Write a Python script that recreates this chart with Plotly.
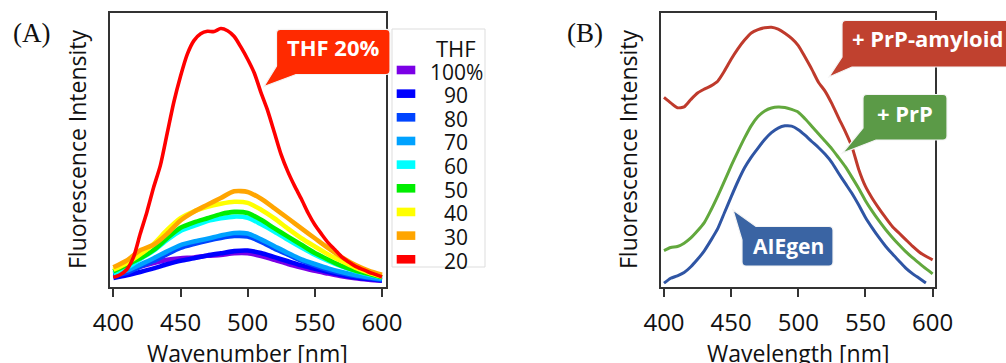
import plotly.graph_objects as go

# ---------------- data ----------------
# Panel A: emission spectra at different THF fractions (arbitrary intensity units)
wl_a = [400, 410, 420, 430, 440, 450, 460, 470, 480, 490, 500,
        510, 520, 530, 540, 550, 560, 570, 580, 590, 600]
thf_100 = [4.6, 6.0, 7.5, 8.9, 10.0, 10.6, 10.9, 11.5, 11.8, 12.4, 12.4,
           11.4, 10.0, 8.5, 7.2, 6.0, 5.0, 4.0, 3.3, 2.8, 2.4]
thf_90 = [3.4, 4.4, 5.6, 6.9, 8.4, 9.7, 10.6, 11.6, 12.4, 13.2, 13.4,
          12.5, 11.0, 9.5, 8.0, 6.8, 5.6, 4.5, 3.6, 3.0, 2.5]
thf_80 = [4.2, 5.3, 7.5, 9.6, 12.1, 14.4, 15.8, 17.0, 18.0, 18.7, 18.5,
          16.6, 14.1, 11.9, 9.7, 7.9, 6.3, 5.1, 4.1, 3.4, 2.7]
thf_70 = [5.1, 6.1, 8.3, 10.6, 13.1, 15.4, 16.7, 17.7, 18.9, 19.8, 19.6,
          17.5, 15.0, 12.5, 10.2, 8.5, 6.9, 5.6, 4.5, 3.7, 3.0]
thf_60 = [5.2, 7.1, 10.3, 13.4, 17.3, 20.6, 22.4, 24.2, 25.2, 25.8, 25.4,
          23.0, 20.3, 17.3, 14.5, 11.9, 9.6, 7.6, 5.9, 4.7, 3.6]
thf_50 = [5.8, 8.2, 10.6, 13.6, 17.9, 21.7, 23.7, 25.2, 26.7, 27.5, 27.1,
          24.6, 21.5, 18.5, 15.5, 12.5, 10.1, 7.8, 6.1, 4.9, 3.7]
thf_40 = [6.4, 8.8, 12.0, 15.8, 20.9, 25.2, 27.7, 29.4, 30.5, 31.2, 30.8,
          28.3, 25.1, 21.4, 17.9, 14.9, 12.0, 9.5, 7.2, 5.4, 3.9]
thf_30 = [7.3, 9.8, 13.5, 15.5, 19.5, 24.4, 27.6, 30.1, 32.6, 35.0, 34.8,
          32.3, 28.8, 25.2, 21.5, 17.9, 14.3, 11.0, 8.2, 6.1, 4.6]
wl_a20 = [400, 405, 410, 415, 420, 425, 430, 435, 440, 445, 450, 455, 460,
          465, 470, 475, 480, 485, 490, 495, 500, 505, 510, 515, 520, 525,
          530, 535, 540, 545, 550, 555, 560, 565, 570, 575, 580, 585, 590,
          595, 600]
thf_20 = [3.6, 4.6, 6.5, 11.0, 19.5, 27.5, 36.5, 44.5, 56.0, 67.5, 77.0,
          85.0, 90.0, 92.5, 93.4, 93.3, 94.4, 93.6, 91.5, 87.6, 83.2, 78.1,
          70.9, 64.3, 56.3, 48.3, 42.1, 36.9, 32.2, 27.1, 22.8, 19.4, 16.2,
          13.7, 11.1, 9.3, 7.7, 6.6, 5.6, 4.7, 3.8]

series_a_names = ["100%", "90", "80", "70", "60", "50", "40", "30", "20"]
series_a_values = [thf_100, thf_90, thf_80, thf_70, thf_60, thf_50, thf_40, thf_30, thf_20]
series_a_colors = ["#7b00e6", "#0000ff", "#0044ff", "#00a2ff", "#00ffff",
                   "#00ee00", "#ffff00", "#ffa500", "#ff0000"]

# Panel B: AIEgen alone, + PrP, + PrP-amyloid
wl_b = [400, 405, 410, 415, 420, 425, 430, 435, 440, 445, 450, 455, 460,
        465, 470, 475, 480, 485, 490, 495, 500, 505, 510, 515, 520, 525,
        530, 535, 540, 545, 550, 555, 560, 565, 570, 575, 580, 585, 590,
        595, 600]
prp_amyloid = [69.3, 67.3, 65.5, 65.8, 68.5, 70.9, 72.3, 73.5, 75.2, 78.9,
               83.2, 87.0, 90.2, 92.8, 94.0, 94.7, 94.9, 94.2, 92.7, 90.8,
               88.2, 84.0, 79.6, 74.8, 71.5, 67.0, 61.8, 56.8, 51.2, 43.0,
               36.8, 32.5, 28.8, 25.4, 22.2, 19.8, 17.4, 15.0, 12.9, 11.3, 10.0]
prp = [13.4, 14.5, 14.9, 16.1, 18.0, 20.6, 23.6, 28.2, 33.3, 38.7, 44.3,
       49.5, 54.5, 59.0, 62.3, 64.3, 65.4, 65.8, 65.6, 64.9, 63.9, 61.5,
       58.8, 56.0, 53.3, 50.5, 47.3, 44.0, 40.1, 36.0, 31.6, 27.8, 24.3,
       21.1, 18.2, 15.5, 13.0, 10.8, 8.8, 6.8, 4.9]
wl_b_aie = wl_b[:-1]
aiegen = [1.5, 3.3, 4.2, 5.4, 7.5, 10.2, 13.3, 17.2, 21.4, 27.2, 33.0, 38.6,
          43.6, 47.5, 50.8, 53.9, 56.4, 58.1, 58.9, 58.8, 57.5, 55.5, 53.2,
          51.0, 48.5, 45.5, 41.6, 37.9, 34.2, 30.0, 25.5, 21.7, 18.2, 15.0,
          12.2, 9.6, 7.0, 5.0, 3.3, 1.6]

x_ticks = [400, 450, 500, 550, 600]

# ---------------- figure ----------------
W, H = 1006, 363


def P(px):
    return px / W


def Q(py):
    return 1 - py / H


FONT = "Open Sans"
fig = go.Figure()

for name, vals, col in zip(series_a_names, series_a_values, series_a_colors):
    xs = wl_a20 if name == "20" else wl_a
    fig.add_trace(go.Scatter(
        x=xs, y=vals, mode="lines", name=name, xaxis="x", yaxis="y",
        line=dict(color=col, width=3.6 if name == "20" else 4.6,
                  shape="spline", smoothing=0.7),
        showlegend=False))

fig.add_trace(go.Scatter(x=wl_b_aie, y=aiegen, mode="lines", name="AIEgen",
                         xaxis="x2", yaxis="y2", showlegend=False,
                         line=dict(color="#2f55a4", width=3, shape="spline", smoothing=0.6)))
fig.add_trace(go.Scatter(x=wl_b, y=prp, mode="lines", name="+ PrP",
                         xaxis="x2", yaxis="y2", showlegend=False,
                         line=dict(color="#62a83d", width=3, shape="spline", smoothing=0.6)))
fig.add_trace(go.Scatter(x=wl_b, y=prp_amyloid, mode="lines", name="+ PrP-amyloid",
                         xaxis="x2", yaxis="y2", showlegend=False,
                         line=dict(color="#bf3a2c", width=3, shape="spline", smoothing=0.6)))

xaxis_common = dict(
    tickvals=x_ticks, ticks="outside", ticklen=8, tickwidth=1.5, tickcolor="#333333",
    showline=True, linecolor="#333333", linewidth=2, mirror=True,
    showgrid=False, zeroline=False, automargin=False,
    tickfont=dict(family=FONT, size=24, color="#111111"), ticklabelstandoff=5)
yaxis_common = dict(
    range=[0, 100], showticklabels=False, ticks="", showline=True,
    linecolor="#333333", linewidth=2, mirror=True, showgrid=False,
    zeroline=False, automargin=False)

ydom = [Q(287.3), Q(13.2)]
fig.update_layout(
    width=W, height=H, margin=dict(l=0, r=0, t=0, b=0),
    paper_bgcolor="white", plot_bgcolor="white",
    xaxis=dict(domain=[P(110), P(386)], range=[397.5, 603], anchor="y", **xaxis_common),
    yaxis=dict(domain=ydom, anchor="x", **yaxis_common),
    xaxis2=dict(domain=[P(661.3), P(935.3)], range=[398, 602], anchor="y2", **xaxis_common),
    yaxis2=dict(domain=ydom, anchor="x2", **yaxis_common),
    showlegend=False,
)

shapes = []
annotations = []


def ann(text, px, py, size=23, color="#111111", family=FONT, bold=False,
        xanchor="center", angle=0):
    annotations.append(dict(
        text=f"<b>{text}</b>" if bold else text, x=P(px), y=Q(py),
        xref="paper", yref="paper", xanchor=xanchor, yanchor="middle",
        showarrow=False, textangle=angle,
        font=dict(family=family, size=size, color=color)))


def pt(px, py):
    return f"{P(px):.5f},{Q(py):.5f}"


def callout(x0, y0, x1, y1, corner, a, tip, b, fill, r=4):
    # a, b: base points of the pointer; tip: pointer tip (pixel coords)
    if corner == "bl":
        # a on bottom edge, b on left edge
        d = (f"M{pt(x0 + r, y0)} L{pt(x1 - r, y0)} Q{pt(x1, y0)} {pt(x1, y0 + r)} "
             f"L{pt(x1, y1 - r)} Q{pt(x1, y1)} {pt(x1 - r, y1)} "
             f"L{pt(*a)} L{pt(*tip)} L{pt(*b)} "
             f"L{pt(x0, y0 + r)} Q{pt(x0, y0)} {pt(x0 + r, y0)} Z")
    else:  # "tl": a on top edge, b on left edge
        d = (f"M{pt(*b)} L{pt(*tip)} L{pt(*a)} "
             f"L{pt(x1 - r, y0)} Q{pt(x1, y0)} {pt(x1, y0 + r)} "
             f"L{pt(x1, y1 - r)} Q{pt(x1, y1)} {pt(x1 - r, y1)} "
             f"L{pt(x0 + r, y1)} Q{pt(x0, y1)} {pt(x0, y1 - r)} Z")
    shapes.append(dict(type="path", path=d, xref="paper", yref="paper",
                       fillcolor=fill, line=dict(color="#f4f4f4", width=1.2),
                       layer="above"))


# Panel A legend (drawn by hand to match the compact original)
shapes.append(dict(type="rect", xref="paper", yref="paper",
                   x0=P(392), x1=P(485), y0=Q(267), y1=Q(29),
                   line=dict(color="#dddddd", width=1), fillcolor="white", layer="above"))
ann("THF", 456, 48, size=22)
for i, (name, col) in enumerate(zip(series_a_names, series_a_colors)):
    cy = 70 + 23.66 * i
    shapes.append(dict(type="rect", xref="paper", yref="paper",
                       x0=P(396.7), x1=P(415.3), y0=Q(cy + 4.3), y1=Q(cy - 4.3),
                       fillcolor=col, line=dict(width=0), layer="above"))
    ann(name, 456, cy + 1.5, size=21)

# Callouts
callout(276.5, 29.3, 390, 74.5, "bl", (296, 74.5), (264, 86.5), (276.5, 66), "#ff2a00")
ann("THF 20%", 333.5, 47, size=22, color="white", bold=True)

callout(842, 20.5, 1012, 67, "bl", (852, 67), (829, 77), (842, 57), "#c0412f")
ann("+ PrP-amyloid", 850, 38, size=22, color="white", bold=True, xanchor="left")

callout(863, 94.5, 947, 140, "bl", (876, 140), (842.5, 153), (863, 128), "#5b9a47")
ann("+ PrP", 905, 113, size=22, color="white", bold=True)

callout(742, 226.5, 833, 266, "tl", (756, 226.5), (733, 210), (742, 240), "#3a64a3")
ann("AIEgen", 788, 246, size=21, color="white", bold=True)

# Panel labels
ann("(A)", 32, 33, size=27, family="Liberation Serif")
ann("(B)", 585, 33, size=27, family="Liberation Serif")

# Axis titles
ann("Fluorescence Intensity", 77, 149, angle=-90)
ann("Fluorescence Intensity", 628, 149, angle=-90)
ann("Wavenumber [nm]", 247.5, 353)
ann("Wavelength [nm]", 797.5, 353)

fig.update_layout(shapes=shapes, annotations=annotations)
fig.write_html("out.html")
